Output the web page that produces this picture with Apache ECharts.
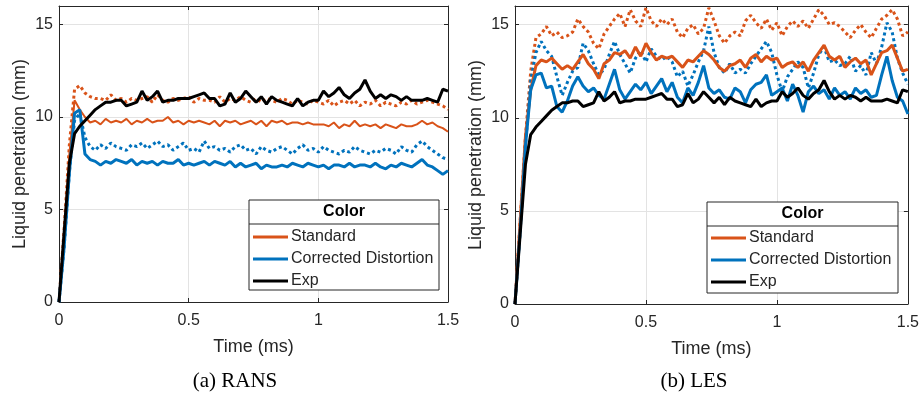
<!DOCTYPE html>
<html>
<head>
<meta charset="utf-8">
<script src="https://cdn.jsdelivr.net/npm/echarts@6/dist/echarts.min.js"></script>
<style>
  html, body { margin: 0; padding: 0; background: #fff; }
  #chart { width: 922px; height: 397px; }
</style>
</head>
<body>
<div id="chart"></div>
<script>
// time (ms), shared by all series
const time = [
  0, 0.02, 0.04, 0.06, 0.08, 0.10, 0.12, 0.14, 0.16, 0.18,
  0.20, 0.22, 0.24, 0.26, 0.28, 0.30, 0.32, 0.34, 0.36, 0.38,
  0.40, 0.42, 0.44, 0.46, 0.48, 0.50, 0.52, 0.54, 0.56, 0.58,
  0.60, 0.62, 0.64, 0.66, 0.68, 0.70, 0.72, 0.74, 0.76, 0.78,
  0.80, 0.82, 0.84, 0.86, 0.88, 0.90, 0.92, 0.94, 0.96, 0.98,
  1.00, 1.02, 1.04, 1.06, 1.08, 1.10, 1.12, 1.14, 1.16, 1.18,
  1.20, 1.22, 1.24, 1.26, 1.28, 1.30, 1.32, 1.34, 1.36, 1.38,
  1.40, 1.42, 1.44, 1.46, 1.48, 1.50
];

// experiment (same in both panels)
const exp = [
  0, 3.8, 7.5, 9.1, 9.5, 9.8, 10.1, 10.4, 10.6, 10.8,
  10.8, 10.9, 10.9, 10.6, 10.7, 10.8, 11.4, 10.9, 11.1, 11.4,
  10.8, 10.9, 10.9, 11.0, 11.0, 11.0, 11.1, 11.2, 11.3, 11.0,
  11.0, 10.6, 10.7, 11.3, 10.8, 11.0, 11.4, 11.1, 10.8, 11.1,
  10.7, 11.1, 10.9, 10.8, 10.7, 10.6, 11.0, 10.6, 10.8, 10.9,
  10.9, 11.4, 11.1, 11.3, 11.6, 11.2, 11.0, 11.3, 11.5, 12.0,
  11.4, 11.0, 11.2, 11.0, 11.2, 11.1, 10.9, 11.1, 10.9, 10.9,
  10.9, 11.0, 10.9, 10.8, 11.5, 11.4
];

// (a) RANS
const ransStd = [
  0, 3.8, 8.0, 10.9, 10.4, 10.0, 9.7, 9.8, 9.6, 9.9,
  9.7, 9.8, 9.7, 9.9, 9.6, 9.8, 9.7, 9.9, 9.7, 9.8,
  9.8, 10.0, 9.7, 9.8, 9.6, 9.8, 9.7, 9.8, 9.7, 9.6,
  9.8, 9.5, 9.8, 9.7, 9.8, 9.6, 9.7, 9.8, 9.6, 9.8,
  9.5, 9.8, 9.7, 9.8, 9.6, 9.7, 9.7, 9.6, 9.7, 9.6,
  9.6, 9.6, 9.5, 9.7, 9.4, 9.6, 9.5, 9.8, 9.5, 9.6,
  9.5, 9.6, 9.4, 9.6, 9.5, 9.4, 9.6, 9.5, 9.5, 9.6,
  9.8, 9.6, 9.7, 9.5, 9.4, 9.2
];
const ransStdDot = [
  0, 4.0, 8.5, 11.5, 11.7, 11.3, 11.1, 11.0, 11.0, 10.9,
  11.2, 10.9, 11.0, 10.8, 11.0, 10.9, 11.0, 11.1, 10.8, 11.2,
  10.9, 10.8, 11.0, 10.9, 11.0, 11.1, 10.8, 11.0, 10.9, 10.9,
  10.8, 11.1, 10.8, 11.0, 10.9, 11.1, 10.9, 10.8, 11.0, 10.8,
  11.0, 10.9, 10.8, 11.0, 10.9, 10.7, 10.9, 10.8, 10.7, 10.9,
  10.8, 10.7, 10.9, 10.6, 10.8, 10.9, 10.7, 10.9, 10.6, 10.8,
  10.7, 10.9, 10.6, 10.8, 10.7, 10.6, 10.8, 10.7, 10.9, 10.7,
  10.8, 10.9, 10.8, 10.7, 10.6, 10.4
];
const ransCor = [
  0, 3.0, 7.0, 10.2, 10.4, 8.0, 7.7, 7.6, 7.4, 7.6,
  7.5, 7.7, 7.6, 7.5, 7.7, 7.4, 7.6, 7.5, 7.6, 7.4,
  7.6, 7.5, 7.5, 7.7, 7.4, 7.5, 7.4, 7.5, 7.6, 7.4,
  7.6, 7.5, 7.4, 7.6, 7.3, 7.5, 7.3, 7.4, 7.5, 7.2,
  7.4, 7.3, 7.3, 7.4, 7.3, 7.5, 7.4, 7.3, 7.5, 7.4,
  7.3, 7.4, 7.2, 7.4, 7.4, 7.3, 7.5, 7.3, 7.4, 7.4,
  7.3, 7.5, 7.3, 7.2, 7.4, 7.3, 7.5, 7.4, 7.3, 7.5,
  7.7, 7.4, 7.3, 7.1, 6.9, 7.1
];
const ransCorDot = [
  0, 3.0, 7.0, 9.8, 10.2, 8.9, 8.4, 8.2, 8.5, 8.3,
  8.6, 8.4, 8.3, 8.2, 8.5, 8.4, 8.6, 8.3, 8.5, 8.7,
  8.4, 8.5, 8.2, 8.4, 8.6, 8.2, 8.3, 8.1, 8.7, 8.3,
  8.4, 8.2, 8.3, 8.1, 8.4, 8.5, 8.2, 8.3, 8.0, 8.4,
  8.2, 8.1, 8.3, 8.4, 8.2, 8.0, 8.3, 8.5, 8.2, 8.3,
  8.1, 8.4, 8.2, 8.1, 8.0, 8.2, 8.1, 8.4, 8.2, 8.1,
  8.0, 8.2, 8.1, 8.3, 8.2, 8.0, 8.4, 8.2, 8.1, 8.5,
  8.7, 8.4, 8.2, 8.0, 7.8, 7.7
];

// (b) LES
const lesStd = [
  0, 4.5, 9.0, 11.5, 12.8, 13.1, 13.0, 13.2, 12.9, 12.6,
  12.8, 12.6, 13.0, 13.4, 12.9, 12.6, 12.1, 12.9, 13.1, 13.5,
  13.4, 13.6, 13.2, 13.8, 13.3, 14.0, 13.5, 13.1, 13.3, 13.2,
  13.3, 13.0, 12.7, 13.1, 13.0, 13.3, 13.6, 13.4, 13.1, 12.7,
  12.5, 12.8, 12.9, 13.1, 12.7, 13.2, 13.4, 13.0, 13.3, 13.1,
  13.2, 12.7, 12.9, 13.0, 12.7, 13.0, 12.5, 13.1, 13.5, 13.9,
  13.3, 13.1, 13.3, 12.7, 13.0, 13.2, 12.9, 13.1, 12.3, 12.9,
  13.5, 13.6, 13.9, 13.2, 12.5, 12.6
];
const lesStdDot = [
  0, 4.5, 9.0, 12.5, 14.3, 14.5, 14.9, 14.4, 14.6, 14.3,
  14.4, 14.6, 15.3, 14.9, 14.6, 14.0, 13.7, 14.5, 14.9, 15.3,
  15.6, 14.9, 15.8, 15.2, 14.9, 15.9, 15.2, 14.9, 15.3, 15.0,
  15.3, 14.6, 14.3, 14.8, 15.0, 14.5, 14.8, 15.9, 15.2, 14.4,
  14.0, 14.4, 14.6, 14.4, 15.2, 15.5, 15.1, 14.8, 15.3, 14.7,
  15.1, 14.4, 14.9, 15.2, 14.9, 15.2, 14.8, 15.3, 15.8, 15.5,
  15.0, 15.1, 14.9, 14.6, 14.3, 14.7, 15.0, 14.6, 14.3, 14.8,
  15.3, 15.5, 15.8, 15.3, 14.4, 14.6
];
const lesCor = [
  0, 4.0, 8.5, 11.5, 12.3, 12.4, 11.6, 11.7, 10.6, 10.3,
  10.9, 11.7, 12.2, 11.7, 11.4, 11.6, 11.2, 11.0, 11.8, 12.6,
  11.5, 11.0, 11.4, 11.8, 11.5, 11.9, 11.3, 11.7, 12.1, 11.4,
  11.9, 11.1, 10.8, 11.6, 11.2, 11.9, 12.8, 11.6, 11.3, 11.5,
  11.1, 11.0, 11.6, 11.4, 10.8, 11.5, 11.8, 11.9, 12.3, 11.2,
  11.4, 11.6, 10.9, 11.8, 11.2, 10.3, 11.4, 11.7, 11.3, 11.5,
  11.0, 11.6, 11.2, 11.4, 11.0, 11.6, 11.3, 11.5, 11.1, 11.2,
  12.3, 13.3, 12.0, 11.1, 10.9, 10.2
];
const lesCorDot = [
  0, 4.0, 8.5, 12.0, 13.5, 14.1, 13.6, 13.3, 12.2, 11.2,
  11.9, 12.5, 12.7, 14.0, 13.6, 12.9, 12.3, 12.6, 13.4, 14.1,
  13.4, 12.9, 12.4, 13.2, 13.6, 13.0, 13.7, 13.3, 13.1, 13.3,
  13.0, 12.2, 12.5, 11.7, 12.3, 13.0, 13.6, 14.9, 13.5, 12.7,
  12.4, 12.9, 12.4, 12.6, 12.4, 12.9, 13.3, 13.7, 14.1, 13.5,
  12.3, 11.4, 12.2, 12.6, 13.0, 12.7, 11.6, 12.4, 13.4, 13.8,
  13.0, 13.1, 12.8, 12.9, 13.3, 12.5, 12.8, 12.3, 13.5, 12.9,
  13.8, 15.1, 14.6, 13.2, 12.4, 11.8
];

const xTicks = { min: 0, max: 1.5, interval: 0.5 };
const yTicks = { min: 0, max: 16, interval: 5 };
const legendNames = ['Standard', 'Corrected Distortion', 'Exp'];

const ORANGE = '#D95319';
const BLUE = '#0072BD';
const BLACK = '#000000';
const TEXT = '#262626';
const FONT = '"Liberation Sans", Arial, sans-serif';

function line(name, vals, color, width, dotted, idx) {
  return {
    name: name,
    type: 'line',
    xAxisIndex: idx,
    yAxisIndex: idx,
    data: time.map((t, i) => [t, vals[i]]),
    symbol: 'none',
    animation: false,
    lineStyle: { color: color, width: width, type: dotted ? [3, 3] : 'solid' },
    itemStyle: { color: color },
  };
}

function xAxis(gridIndex, pos, withLabels) {
  return {
    type: 'value', gridIndex: gridIndex, position: pos,
    min: xTicks.min, max: xTicks.max, interval: xTicks.interval,
    name: withLabels ? 'Time (ms)' : '',
    nameLocation: 'middle', nameGap: 36,
    nameTextStyle: { fontFamily: FONT, fontSize: 18, color: TEXT },
    axisLine: { show: true, onZero: false, lineStyle: { color: TEXT, width: 1 } },
    axisTick: { show: true, inside: true, length: 4, lineStyle: { color: TEXT } },
    axisLabel: { show: withLabels, fontFamily: FONT, fontSize: 16, color: TEXT, margin: 11 },
    splitLine: { show: withLabels, lineStyle: { color: '#e3e3e3', width: 1 } },
  };
}

function yAxis(gridIndex, pos, withLabels) {
  return {
    type: 'value', gridIndex: gridIndex, position: pos,
    min: yTicks.min, max: yTicks.max, interval: yTicks.interval,
    name: withLabels ? 'Liquid penetration (mm)' : '',
    nameLocation: 'middle', nameGap: 30, nameRotate: 90,
    nameTextStyle: { fontFamily: FONT, fontSize: 18, color: TEXT },
    axisLine: { show: true, onZero: false, lineStyle: { color: TEXT, width: 1 } },
    axisTick: { show: true, inside: true, length: 4, lineStyle: { color: TEXT } },
    axisLabel: { show: withLabels, showMaxLabel: false, fontFamily: FONT, fontSize: 16, color: TEXT, margin: 6 },
    splitLine: { show: withLabels, lineStyle: { color: '#e3e3e3', width: 1 } },
  };
}

// legend box drawn as graphic: outer frame, title row and separator
function legendBox(x, y, w, h) {
  return [
    { type: 'rect', shape: { x: x, y: y, width: w, height: h }, style: { fill: '#fff', stroke: TEXT, lineWidth: 1 }, z: 10 },
    { type: 'line', shape: { x1: x, y1: y + 24, x2: x + w, y2: y + 24 }, style: { stroke: TEXT, lineWidth: 1 }, z: 11 },
    { type: 'text', x: x + w / 2, y: y + 12, style: { text: 'Color', font: 'bold 16px ' + FONT, fill: '#000', align: 'center', verticalAlign: 'middle' }, z: 11 },
  ];
}

function legend(left, top) {
  return {
    data: legendNames, orient: 'vertical', left: left, top: top,
    icon: 'rect', itemWidth: 35, itemHeight: 3, itemGap: 0, z: 12,
    textStyle: { fontFamily: FONT, fontSize: 16, color: TEXT, lineHeight: 22, padding: [0, 0, 0, -2] },
    padding: 0,
  };
}

const chart = echarts.init(document.getElementById('chart'), null, { renderer: 'canvas' });

chart.setOption({
  animation: false,
  grid: [
    { left: 59, top: 6, width: 389, height: 296 },
    { left: 515, top: 6, width: 393, height: 298 },
  ],
  xAxis: [xAxis(0, 'bottom', true), xAxis(1, 'bottom', true), xAxis(0, 'top', false), xAxis(1, 'top', false)],
  yAxis: [yAxis(0, 'left', true), yAxis(1, 'left', true), yAxis(0, 'right', false), yAxis(1, 'right', false)],
  legend: [legend(253, 226), legend(711, 227)],
  graphic: [
    ...legendBox(249, 200, 190, 90),
    ...legendBox(707, 202, 191, 91),
    { type: 'text', x: 235, y: 381, style: { text: '(a) RANS', font: '21px "Liberation Serif", serif', fill: '#000', align: 'center', verticalAlign: 'middle' } },
    { type: 'text', x: 694, y: 381, style: { text: '(b) LES', font: '21px "Liberation Serif", serif', fill: '#000', align: 'center', verticalAlign: 'middle' } },
  ],
  series: [
    line('Standard dotted', ransStdDot, ORANGE, 3, true, 0),
    line('Corrected dotted', ransCorDot, BLUE, 3, true, 0),
    line('Standard', ransStd, ORANGE, 2, false, 0),
    line('Corrected Distortion', ransCor, BLUE, 3, false, 0),
    line('Exp', exp, BLACK, 3, false, 0),
    line('Standard dotted', lesStdDot, ORANGE, 3, true, 1),
    line('Corrected dotted', lesCorDot, BLUE, 3, true, 1),
    line('Standard', lesStd, ORANGE, 3, false, 1),
    line('Corrected Distortion', lesCor, BLUE, 3, false, 1),
    line('Exp', exp, BLACK, 3, false, 1),
  ],
});
</script>
</body>
</html>
